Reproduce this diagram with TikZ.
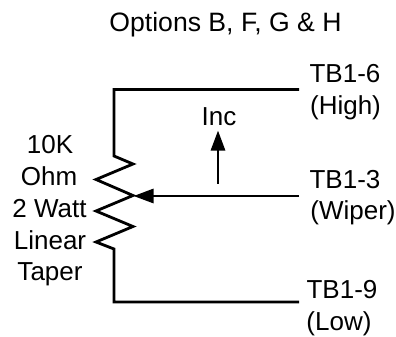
\documentclass[tikz,border=0pt]{standalone}
\usepackage{fontspec}
\setmainfont{Liberation Sans}
\usetikzlibrary{arrows.meta}
\tikzset{
  wire/.style={line width=2.8pt,line cap=butt,line join=miter,black},
  tipped/.style={wire,-{Triangle[length=20pt,width=14pt]}},
  lbl/.style={font=\fontsize{26}{26}\selectfont,text=black,inner sep=0pt,anchor=base}
}
\begin{document}
\begin{tikzpicture}[x=1pt,y=-1pt]
\useasboundingbox (0,0) rectangle (396,337);
\node[lbl,font=\fontsize{26.6}{26.6}\selectfont] (title) at (225.5,32) {Options B, F, G \& H};
\node[lbl] (t6) at (345,82.5) {TB1-6};
\node[lbl] (high) at (345.5,114) {(High)};
\node[lbl] (t3) at (345,188.5) {TB1-3};
\node[lbl] (wiper) at (353,219) {(Wiper)};
\node[lbl] (t9) at (342,298) {TB1-9};
\node[lbl] (low) at (339,330) {(Low)};
\node[lbl] (inc) at (219,125) {Inc};
\node[lbl] (r1) at (50,153) {10K};
\node[lbl] (r2) at (49,185) {Ohm};
\node[lbl] (r3) at (49.5,217) {2 Watt};
\node[lbl] (r4) at (50,249) {Linear};
\node[lbl] (r5) at (50,280) {Taper};
\coordinate (hi) at (299,89.5);
\coordinate (lo) at (299,302);
\coordinate (wp) at (299,196);
\coordinate (tap) at (133.5,196);
\coordinate (incs) at (218,183.5);
\coordinate (ince) at (218,130.5);
\draw[wire] (hi) -- (114,89.5) -- (114,156) -- (133,164) -- (96,179.5) -- (133,195.5) -- (96,211) -- (133,226.5) -- (96,242) -- (114,249) -- (114,302) -- (lo);
\draw[tipped] (wp) -- (tap);
\draw[tipped] (incs) -- (ince);
\end{tikzpicture}
\end{document}
